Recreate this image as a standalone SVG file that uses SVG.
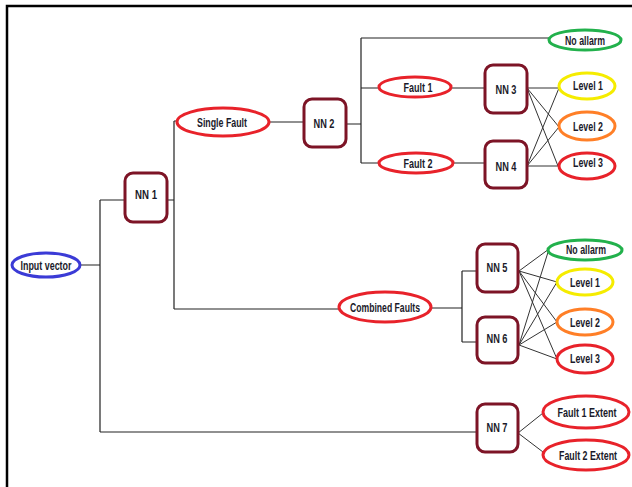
<svg xmlns="http://www.w3.org/2000/svg" width="632" height="487" viewBox="0 0 632 487">
<style>
.nn{fill:#fff;stroke:#7d1426;stroke-width:3}
.red{fill:#fff;stroke:#e8222a;stroke-width:3}
.grn{fill:#fff;stroke:#22b14c;stroke-width:3}
.yel{fill:#fff;stroke:#f5ec00;stroke-width:3}
.org{fill:#fff;stroke:#ff7f27;stroke-width:3}
.blu{fill:#fff;stroke:#3b3bd6;stroke-width:3}
.t{font-family:"Liberation Sans",Arial,sans-serif;font-size:12px;font-weight:bold;fill:#1a1a2a;text-anchor:middle}
.c{fill:none;stroke:#222;stroke-width:1.2}
.d{fill:none;stroke:#333;stroke-width:1}
</style>
<rect width="632" height="487" fill="#fff"/>
<path d="M7,487 V6 H632" fill="none" stroke="#000" stroke-width="2.5"/>
<g id="connectors">
<path class="c" d="M80,265 H100 M100,200 V432 M100,200 H125 M167,200 H174 M174,121 V309 M174,121 H177 M174,309 H339"/>
<path class="c" d="M270,122 H304 M346,124 H361 M361,38 V163 M361,38 H549 M361,88 H379 M361,163 H379 M452,88 H485 M453,163 H485"/>
<path class="d" d="M527,88 L559,88 M527,88 L559,127 M527,88 L558,166 M527,166 L559,88 M527,166 L559,127 M527,166 L558,166"/>
<path class="c" d="M432,308 H462 M462,271 V342 M462,271 H477 M462,342 H477"/>
<path class="d" d="M519,271 L549,249 M519,271 L557,282 M519,271 L557,322 M519,271 L557,359 M519,345 L549,249 M519,345 L557,282 M519,345 L557,322 M519,345 L557,359"/>
<path class="c" d="M100,432 H477"/>
<path class="d" d="M518,433 L543,413 M518,433 L543,452"/>
</g>
<g id="input"><ellipse class="blu" cx="46" cy="265" rx="34" ry="12"/><text class="t" x="46" y="269.5" textLength="51" lengthAdjust="spacingAndGlyphs">Input vector</text></g>
<g id="nn1"><rect class="nn" x="125" y="173" width="42" height="49" rx="8"/><text class="t" x="146" y="198.5" textLength="22" lengthAdjust="spacingAndGlyphs">NN 1</text></g>
<g id="single"><ellipse class="red" cx="223" cy="122" rx="46" ry="14"/><text class="t" x="222" y="126.5" textLength="50" lengthAdjust="spacingAndGlyphs">Single Fault</text></g>
<g id="nn2"><rect class="nn" x="304" y="99" width="42" height="48" rx="8"/><text class="t" x="324" y="127.5" textLength="21" lengthAdjust="spacingAndGlyphs">NN 2</text></g>
<g id="noalarm1"><ellipse class="grn" cx="585" cy="40" rx="36" ry="10"/><text class="t" x="585" y="44.5" textLength="40" lengthAdjust="spacingAndGlyphs">No allarm</text></g>
<g id="fault1"><ellipse class="red" cx="415" cy="87" rx="36" ry="10"/><text class="t" x="418" y="91.5" textLength="29" lengthAdjust="spacingAndGlyphs">Fault 1</text></g>
<g id="fault2"><ellipse class="red" cx="416" cy="163" rx="37" ry="10"/><text class="t" x="418" y="167.5" textLength="29" lengthAdjust="spacingAndGlyphs">Fault 2</text></g>
<g id="nn3"><rect class="nn" x="485" y="65" width="42" height="48" rx="8"/><text class="t" x="506" y="94" textLength="21" lengthAdjust="spacingAndGlyphs">NN 3</text></g>
<g id="nn4"><rect class="nn" x="485" y="141" width="42" height="47" rx="8"/><text class="t" x="506" y="171" textLength="21" lengthAdjust="spacingAndGlyphs">NN 4</text></g>
<g id="level1a"><ellipse class="yel" cx="587" cy="86" rx="28" ry="13"/><text class="t" x="588" y="90" textLength="30" lengthAdjust="spacingAndGlyphs">Level 1</text></g>
<g id="level2a"><ellipse class="org" cx="587" cy="126" rx="28" ry="14"/><text class="t" x="588" y="130.5" textLength="30" lengthAdjust="spacingAndGlyphs">Level 2</text></g>
<g id="level3a"><ellipse class="red" cx="587" cy="166" rx="28" ry="13"/><text class="t" x="588" y="166.5" textLength="30" lengthAdjust="spacingAndGlyphs">Level 3</text></g>
<g id="combined"><ellipse class="red" cx="385" cy="307" rx="46" ry="15"/><text class="t" x="385" y="311.5" textLength="70" lengthAdjust="spacingAndGlyphs">Combined Faults</text></g>
<g id="nn5"><rect class="nn" x="477" y="244" width="41" height="48" rx="8"/><text class="t" x="497" y="271.5" textLength="21" lengthAdjust="spacingAndGlyphs">NN 5</text></g>
<g id="nn6"><rect class="nn" x="477" y="317" width="41" height="46" rx="8"/><text class="t" x="497" y="342.5" textLength="21" lengthAdjust="spacingAndGlyphs">NN 6</text></g>
<g id="noalarm2"><ellipse class="grn" cx="585" cy="250" rx="37" ry="10"/><text class="t" x="586" y="253.5" textLength="40" lengthAdjust="spacingAndGlyphs">No allarm</text></g>
<g id="level1b"><ellipse class="yel" cx="585" cy="282" rx="28" ry="13"/><text class="t" x="585" y="287" textLength="30" lengthAdjust="spacingAndGlyphs">Level 1</text></g>
<g id="level2b"><ellipse class="org" cx="585" cy="322" rx="28" ry="13"/><text class="t" x="585" y="327" textLength="30" lengthAdjust="spacingAndGlyphs">Level 2</text></g>
<g id="level3b"><ellipse class="red" cx="585" cy="359" rx="28" ry="14"/><text class="t" x="585" y="362.5" textLength="30" lengthAdjust="spacingAndGlyphs">Level 3</text></g>
<g id="nn7"><rect class="nn" x="477" y="404" width="41" height="48" rx="8"/><text class="t" x="497" y="431.5" textLength="21" lengthAdjust="spacingAndGlyphs">NN 7</text></g>
<g id="fault1ext"><ellipse class="red" cx="586" cy="412" rx="43" ry="16"/><text class="t" x="587" y="416.5" textLength="59" lengthAdjust="spacingAndGlyphs">Fault 1 Extent</text></g>
<g id="fault2ext"><ellipse class="red" cx="586" cy="455" rx="43" ry="15"/><text class="t" x="588" y="459.5" textLength="58" lengthAdjust="spacingAndGlyphs">Fault 2 Extent</text></g>
</svg>
